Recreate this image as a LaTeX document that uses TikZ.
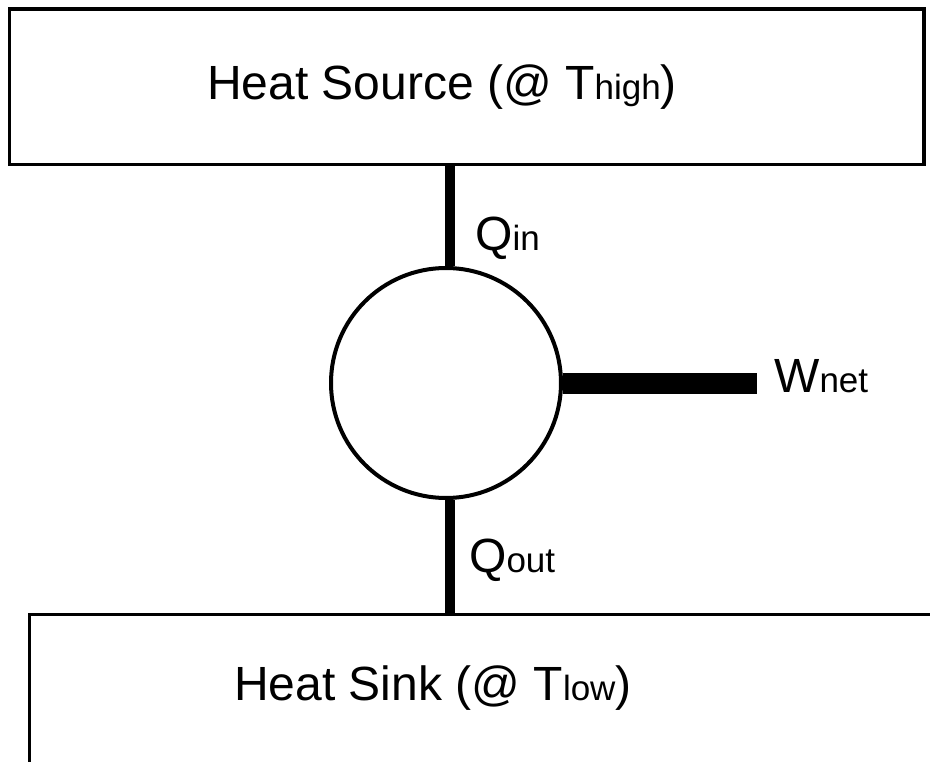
\documentclass[tikz,border=0pt]{standalone}
\usepackage{fontspec}
\setmainfont{Liberation Sans}
\newcommand\smallsub[1]{{\fontsize{35}{38}\selectfont #1}}
\begin{document}
\begin{tikzpicture}[x=1pt,y=-1pt,
  big/.style={font=\fontsize{48}{52}\selectfont, inner sep=0pt, anchor=base west},
  boxshape/.style={draw, rectangle, line width=3.5pt, inner sep=0pt},
  flow/.style={line width=10pt},
  work/.style={line width=21pt}]
\useasboundingbox (0,0) rectangle (930,762);
\clip (0,0) rectangle (930,762);
\fill[white] (0,0) rectangle (930,762);
\node[boxshape, minimum width=914.5pt, minimum height=155.5pt] (src) at (466.75,86.75) {};
\node[boxshape, minimum width=1000pt, minimum height=300pt, anchor=north west] (snk) at (27.5,612.5) {};
\node[draw, circle, line width=4pt, minimum size=230pt, inner sep=0pt] (eng) at (446,383) {};
\coordinate (wend) at (757,383);
\draw[flow] ([xshift=4pt]eng.north) -- ([xshift=4pt]eng.north |- src.south);
\draw[flow] ([xshift=4pt]eng.south) -- ([xshift=4pt]eng.south |- snk.north);
\draw[work] (eng.east) -- (wend);
\node[big] (tsrc) at (207,100) {Heat Source (@ T\smallsub{high})};
\node[big] (qin) at (475,251) {Q\smallsub{in}};
\node[big] (wnet) at (774,392) {W\smallsub{net}};
\node[big] (qout) at (469,572) {Q\smallsub{out}};
\node[big] (tsnk) at (234,700) {Heat Sink (@ T\smallsub{low})};
\end{tikzpicture}
\end{document}
